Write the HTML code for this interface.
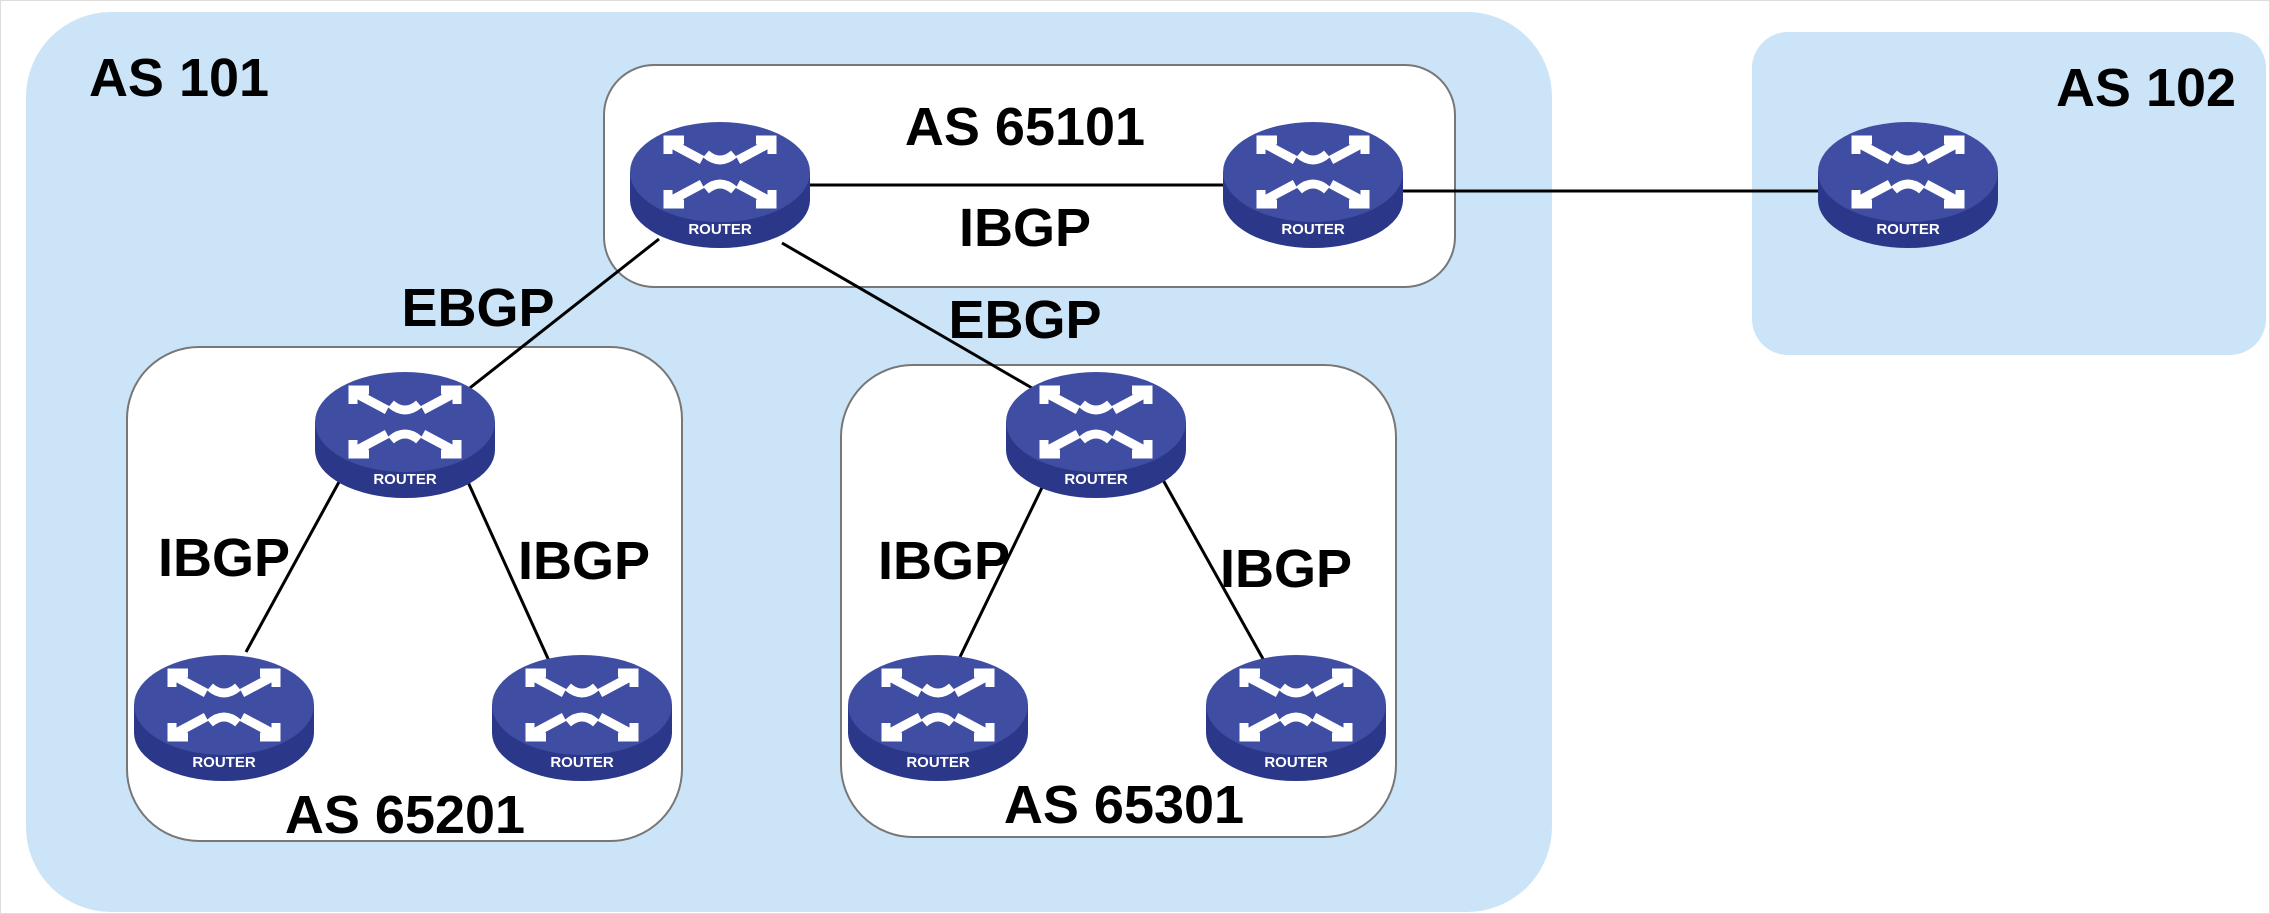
<!DOCTYPE html>
<html><head><meta charset="utf-8"><style>
html,body{margin:0;padding:0;background:#fff;}
svg{display:block}
text{font-family:"Liberation Sans",Arial,sans-serif;font-weight:bold;}
</style></head><body>
<svg width="2270" height="914" viewBox="0 0 2270 914" xmlns="http://www.w3.org/2000/svg">
<defs>
<g id="r">
  <path d="M-90,-12 L-90,16 A90,48 0 0 0 90,16 L90,-12 Z" fill="#2b3889"/>
  <ellipse cx="0" cy="-12" rx="90" ry="50" fill="#3f4ea3"/>
  <g fill="none" stroke="#fff" stroke-width="9" stroke-linejoin="miter">
    <path d="M-48,-40 L-18,-24"/><path d="M-52,-30 L-52,-44 L-36,-44"/>
    <path d="M48,16 L18,0"/><path d="M52,6 L52,20 L36,20"/>
    <path d="M48,-40 L18,-24"/><path d="M36,-44 L52,-44 L52,-30"/>
    <path d="M-48,16 L-18,0"/><path d="M-36,20 L-52,20 L-52,6"/>
    <path d="M-14,-30 Q0,-18 14,-30"/><path d="M-14,6 Q0,-6 14,6"/>
  </g>
  <text x="0" y="50" text-anchor="middle" font-size="15" fill="#fff">ROUTER</text>
</g>
</defs>
<rect x="0.5" y="0.5" width="2269" height="913" fill="#fff" stroke="#ddd"/>
<rect x="26" y="12" width="1526" height="900" rx="85" fill="#cce4f7"/>
<rect x="1752" y="32" width="514" height="323" rx="36" fill="#cce4f7"/>
<rect x="604" y="65" width="851" height="222" rx="50" fill="#fff" stroke="#777" stroke-width="2"/>
<rect x="127" y="347" width="555" height="494" rx="72" fill="#fff" stroke="#777" stroke-width="2"/>
<rect x="841" y="365" width="555" height="472" rx="72" fill="#fff" stroke="#777" stroke-width="2"/>
<g stroke="#000" stroke-width="3">
  <line x1="760" y1="185" x2="1280" y2="185"/>
  <line x1="1360" y1="191" x2="1880" y2="191"/>
  <line x1="659" y1="239" x2="466" y2="391"/>
  <line x1="782" y1="243" x2="1032" y2="388"/>
  <line x1="345" y1="471" x2="246" y2="652"/>
  <line x1="463" y1="471" x2="550" y2="663"/>
  <line x1="1050" y1="471" x2="959" y2="659"/>
  <line x1="1158" y1="471" x2="1267" y2="666"/>
</g>
<use href="#r" x="720" y="184"/>
<use href="#r" x="1313" y="184"/>
<use href="#r" x="1908" y="184"/>
<use href="#r" x="405" y="434"/>
<use href="#r" x="1096" y="434"/>
<use href="#r" x="224" y="717"/>
<use href="#r" x="582" y="717"/>
<use href="#r" x="938" y="717"/>
<use href="#r" x="1296" y="717"/>
<g font-size="54" fill="#000" text-anchor="middle">
  <text x="179" y="96">AS 101</text>
  <text x="2146" y="106">AS 102</text>
  <text x="1025" y="145">AS 65101</text>
  <text x="1025" y="246">IBGP</text>
  <text x="478" y="326">EBGP</text>
  <text x="1025" y="338">EBGP</text>
  <text x="224" y="576">IBGP</text>
  <text x="584" y="579">IBGP</text>
  <text x="944" y="579">IBGP</text>
  <text x="1286" y="587">IBGP</text>
  <text x="405" y="833">AS 65201</text>
  <text x="1124" y="823">AS 65301</text>
</g>
</svg>
</body></html>
